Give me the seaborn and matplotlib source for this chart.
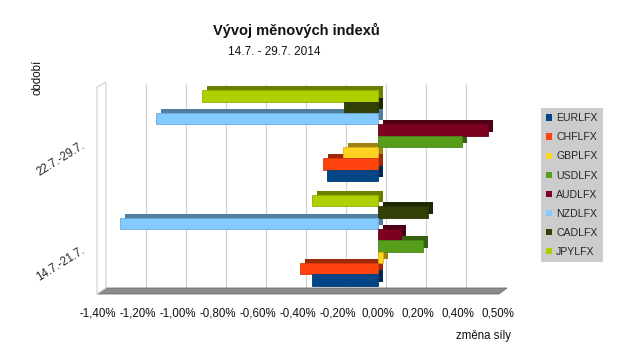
import matplotlib
matplotlib.use("Agg")
import matplotlib.pyplot as plt
import matplotlib.transforms as mtransforms
from matplotlib.patches import Rectangle, Polygon, Patch
from matplotlib.colors import to_rgb
import seaborn as sns
import pandas as pd

# ---- data ----
periods = ["22.7.-29.7.", "14.7.-21.7."]          # top to bottom
series = ["EURLFX", "CHFLFX", "GBPLFX", "USDLFX", "AUDLFX", "NZDLFX", "CADLFX", "JPYLFX"]
# values in % for [22.7.-29.7., 14.7.-21.7.]
eur = [-0.255, -0.33]
chf = [-0.275, -0.39]
gbp = [-0.175, 0.025]
usd = [0.42, 0.225]
aud = [0.55, 0.115]
nzd = [-1.11, -1.29]
cad = [-0.17, 0.25]
jpy = [-0.88, -0.33]
colors = ["#004586", "#ff420e", "#ffd320", "#579d1c", "#7e0021", "#83caff", "#314004", "#aecf00"]
tick_vals = [-1.4, -1.2, -1.0, -0.8, -0.6, -0.4, -0.2, 0.0, 0.2, 0.4, 0.6]
tick_labels = ["-1,40%", "-1,20%", "-1,00%", "-0,80%", "-0,60%", "-0,40%", "-0,20%",
               "0,00%", "0,20%", "0,40%", "0,50%"]

values = [eur, chf, gbp, usd, aud, nzd, cad, jpy]
rows = []
for name, vals in zip(series, values):
    for p, v in zip(periods, vals):
        rows.append({"period": p, "index": name, "value": v})
df = pd.DataFrame(rows)
palette = dict(zip(series, colors))

sns.set_theme(style="white")
plt.rcParams["font.family"] = ["Liberation Sans", "DejaVu Sans"]

W, H = 633, 364
fig = plt.figure(figsize=(W / 100, H / 100), dpi=100)
ax = fig.add_axes([98 / W, 1 - 292.5 / H, 400 / W, 209 / H])

def fx(px):
    return px / W

def fy(py):
    return 1 - py / H

# floor and left wall (3D decoration)
fig.patches.append(Polygon([(fx(97), fy(294)), (fx(499), fy(294)), (fx(507), fy(288)), (fx(105), fy(288))],
                           closed=True, transform=fig.transFigure, facecolor="#8c8c8c",
                           edgecolor="#6e6e6e", lw=0.6, zorder=0))
fig.patches.append(Polygon([(fx(97), fy(294)), (fx(97), fy(87)), (fx(106), fy(82)), (fx(106), fy(288))],
                           closed=True, transform=fig.transFigure, facecolor="white",
                           edgecolor="#d0d0d0", lw=0.8, zorder=0))

hue_order = series[::-1]  # JPY on top, EUR at bottom
sns.barplot(data=df, y="period", x="value", hue="index", order=periods, hue_order=hue_order,
            palette=palette, orient="h", width=0.87, saturation=1, legend=False, ax=ax,
            errorbar=None, edgecolor="none", zorder=3)

# 3D depth: darker copies offset up-right behind each bar
off = mtransforms.ScaledTranslation(5 / 100, 4 / 100, fig.dpi_scale_trans)
for bar in list(ax.patches):
    c = to_rgb(bar.get_facecolor())
    dark = tuple(v * 0.62 for v in c)
    r = Rectangle(bar.get_xy(), bar.get_width(), bar.get_height(), facecolor=dark,
                  edgecolor="none", transform=ax.transData + off, zorder=2)
    ax.add_patch(r)
    bar.set_zorder(3)
    bar.set_edgecolor(tuple(min(1, v * 0.85) for v in c))
    bar.set_linewidth(0.6)

# back-wall gridlines
goff = mtransforms.ScaledTranslation(8 / 100, 0, fig.dpi_scale_trans)
gtrans = mtransforms.blended_transform_factory(ax.transData, ax.transAxes) + goff
ax.vlines(tick_vals[1:], 0.02, 1.0, colors="#d3d3d3", lw=0.9, transform=gtrans, zorder=0)

ax.set_xlim(-1.4, 0.6)
ax.set_ylim(1.5, -0.5)
ax.set_xticks(tick_vals)
ax.set_xticklabels(tick_labels, fontsize=8.3, color="#111111")
ax.tick_params(axis="x", length=0, pad=10.5)
ax.tick_params(axis="y", length=0, pad=10)
for lab in ax.get_yticklabels():
    lab.set_rotation(32)
    lab.set_fontsize(8.3)
    lab.set_ha("right")
    lab.set_va("center")
    lab.set_rotation_mode("anchor")
    lab.set_transform(lab.get_transform() + mtransforms.ScaledTranslation(0, -9 / 100, fig.dpi_scale_trans))
ax.set_xlabel("")
ax.set_ylabel("")
for s in ax.spines.values():
    s.set_visible(False)
ax.patch.set_alpha(0)

fig.text(fx(296), fy(30), "Vývoj měnových indexů", ha="center", va="center",
         fontsize=10.5, fontweight="bold", color="#111111")
fig.text(fx(274), fy(52), "14.7. - 29.7. 2014", ha="center", va="center", fontsize=8.5, color="#111111")
fig.text(fx(37.5), fy(77), "období", rotation=90, ha="center", va="center", fontsize=8.3, color="#111111")
fig.text(fx(483), fy(336), "změna síly", ha="center", va="center", fontsize=8.3, color="#111111")

handles = [Patch(facecolor=c, edgecolor="none") for c in colors]
leg = fig.legend(handles, series, loc="upper left", bbox_to_anchor=(fx(541), fy(108)),
                 bbox_transform=fig.transFigure, frameon=True, fancybox=False,
                 facecolor="#cccccc", edgecolor="none", framealpha=1, fontsize=7.6,
                 handlelength=0.55, handleheight=0.55, handletextpad=0.38,
                 labelspacing=0.86, borderpad=0.5, borderaxespad=0)

fig.savefig("out.png", dpi=100)
